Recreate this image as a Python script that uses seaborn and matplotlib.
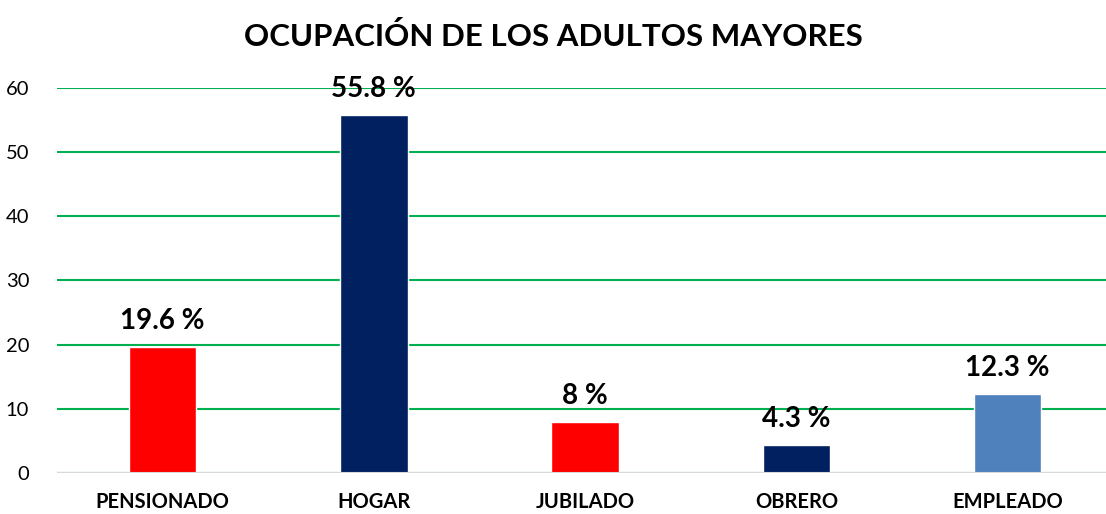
import pandas as pd
import matplotlib
matplotlib.use("Agg")
import matplotlib.pyplot as plt
import seaborn as sns

categorias = ["PENSIONADO", "HOGAR", "JUBILADO", "OBRERO", "EMPLEADO"]
valores = [19.6, 55.8, 8, 4.3, 12.3]
etiquetas = ["19.6 %", "55.8 %", "8 %", "4.3 %", "12.3 %"]
colores = ["#FF0000", "#002060", "#FF0000", "#002060", "#4F81BD"]

sns.set_style("white")
plt.rcParams["font.family"] = ["Lato", "DejaVu Sans"]
plt.rcParams["text.color"] = "black"
plt.rcParams["xtick.color"] = "black"
plt.rcParams["ytick.color"] = "black"

df = pd.DataFrame({"ocupacion": categorias, "valor": valores})

fig = plt.figure(figsize=(11.06, 5.14), dpi=100)
ax = fig.add_axes([0.0515, 0.080, 0.955, 0.749])

sns.barplot(data=df, x="ocupacion", y="valor", hue="ocupacion", palette=colores,
            legend=False, width=0.32, saturation=1, ax=ax, zorder=3)

ax.set_ylim(0, 60)
ax.set_yticks(range(0, 61, 10))
ax.yaxis.grid(True, color="#00B050", linewidth=1.5, zorder=0)
ax.axhline(0, color="#D9D9D9", linewidth=1.5, zorder=4)
for s in ax.spines.values():
    s.set_visible(False)
ax.tick_params(axis="both", length=0)
ax.tick_params(axis="y", labelsize=14.5, pad=20)
ax.tick_params(axis="x", pad=14)
for t in ax.get_xticklabels():
    t.set_fontweight("bold")
    t.set_fontsize(14.5)
ax.set_xlabel("")
ax.set_ylabel("")

for i, (v, lab) in enumerate(zip(valores, etiquetas)):
    ax.text(i, v + 2.0, lab, ha="center", va="bottom", fontsize=20, fontweight="bold")

fig.suptitle("OCUPACIÓN DE LOS ADULTOS MAYORES", fontsize=22.5, fontweight="bold", y=0.958)

fig.savefig("out.png", dpi=100)
